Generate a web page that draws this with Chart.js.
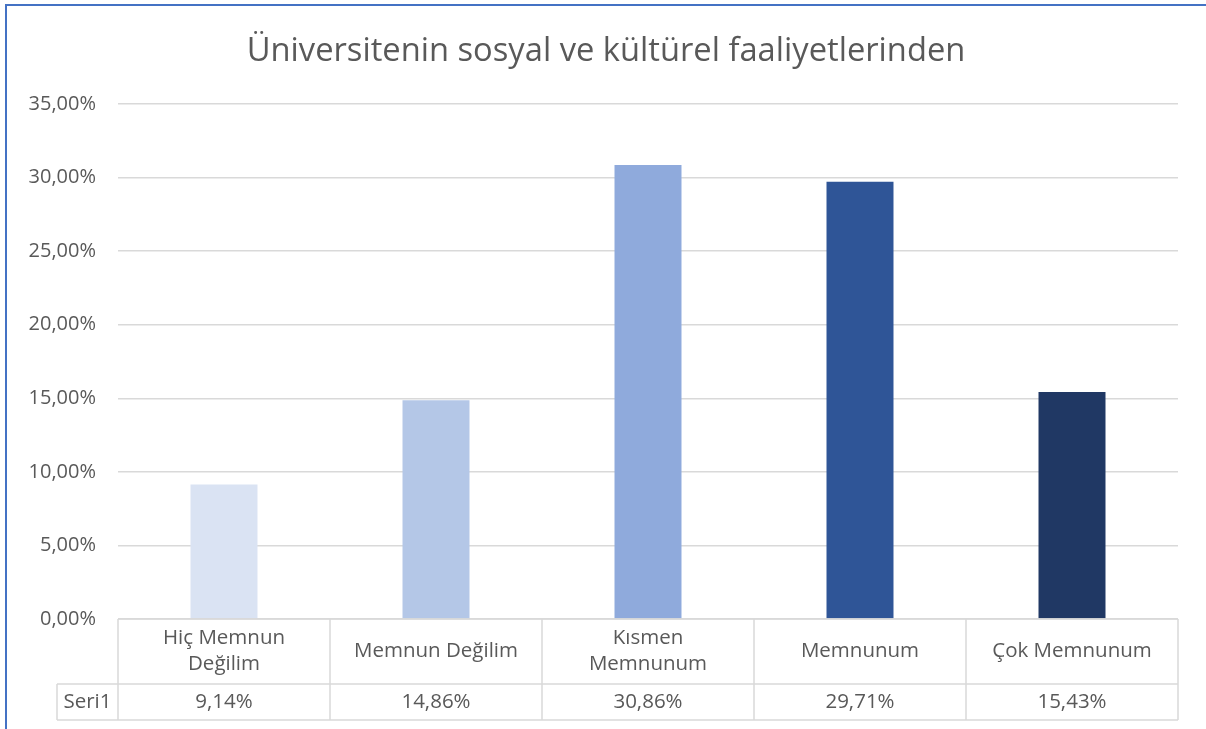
<!DOCTYPE html>
<html><head><meta charset="utf-8">
<script src="https://cdn.jsdelivr.net/npm/chart.js@4/dist/chart.umd.min.js"></script>
<style>
html,body{margin:0;padding:0;background:#fff;}
#wrap{position:relative;width:1206px;height:729px;}
#frame{position:absolute;left:5px;top:4px;right:-10px;bottom:-10px;border-left:2px solid #4472C4;border-top:2px solid #4472C4;pointer-events:none;}
canvas{display:block;}
</style></head>
<body>
<div id="wrap"><canvas id="c" width="1206" height="729"></canvas><div id="frame"></div></div>
<script>
const categories = ["Hiç Memnun Değilim", "Memnun Değilim", "Kısmen Memnunum", "Memnunum", "Çok Memnunum"];
const headerLines = [["Hiç Memnun", "Değilim"], ["Memnun Değilim"], ["Kısmen", "Memnunum"], ["Memnunum"], ["Çok Memnunum"]];
const seriesName = "Seri1";
const values = [9.14, 14.86, 30.86, 29.71, 15.43];
const barColors = ["#DAE3F3", "#B4C7E7", "#8FAADC", "#2F5597", "#203864"];
const titleText = "Üniversitenin sosyal ve kültürel faaliyetlerinden";

const FONT = "'Open Sans', 'DejaVu Sans', sans-serif";
const TEXT = "#595959";
const LINE = "#D9D9D9";
const fmt = v => v.toFixed(2).replace('.', ',') + '%';

const titlePlugin = {
  id: 'centerTitle',
  afterDraw(chart) {
    const ctx = chart.ctx;
    ctx.save();
    ctx.fillStyle = TEXT;
    ctx.font = "32.7px " + FONT;
    ctx.textAlign = 'center';
    ctx.textBaseline = 'middle';
    ctx.fillText(titleText, chart.width / 2 + 3, 52);
    ctx.restore();
  }
};

const tablePlugin = {
  id: 'dataTable',
  afterDraw(chart) {
    const ctx = chart.ctx, x = chart.scales.x, area = chart.chartArea;
    const n = categories.length;
    const step = (area.right - area.left) / n;
    const top = area.bottom;
    const mid = top + 65;
    const bot = top + 101;
    const leftLabel = 57;
    ctx.save();
    ctx.strokeStyle = LINE;
    ctx.lineWidth = 1.5;
    ctx.beginPath();
    ctx.moveTo(area.left, top); ctx.lineTo(area.right, top);
    ctx.moveTo(leftLabel, mid); ctx.lineTo(area.right, mid);
    ctx.moveTo(leftLabel, bot); ctx.lineTo(area.right, bot);
    for (let i = 0; i <= n; i++) {
      const px = area.left + i * step;
      ctx.moveTo(px, top); ctx.lineTo(px, bot);
    }
    ctx.moveTo(leftLabel, mid); ctx.lineTo(leftLabel, bot);
    ctx.stroke();
    ctx.fillStyle = TEXT;
    ctx.font = "20.5px " + FONT;
    ctx.textAlign = 'center';
    ctx.textBaseline = 'middle';
    for (let i = 0; i < n; i++) {
      const cx = x.getPixelForValue(i);
      const lines = headerLines[i];
      const lh = 26;
      const y0 = (top + mid) / 2 - (lines.length - 1) * lh / 2;
      lines.forEach((l, j) => ctx.fillText(l, cx, y0 + j * lh));
      ctx.fillText(fmt(values[i]), cx, (mid + bot) / 2);
    }
    ctx.fillText(seriesName, (leftLabel + area.left) / 2, (mid + bot) / 2);
    ctx.restore();
  }
};

new Chart(document.getElementById('c'), {
  type: 'bar',
  data: {
    labels: categories,
    datasets: [{
      label: seriesName,
      data: values,
      backgroundColor: barColors,
      borderWidth: 0,
      barPercentage: 1,
      categoryPercentage: 0.316
    }]
  },
  options: {
    responsive: false,
    animation: false,
    devicePixelRatio: 1,
    layout: { padding: { left: 0, right: 28, top: 104, bottom: 110 } },
    plugins: {
      legend: { display: false },
      tooltip: { enabled: false },
      title: { display: false }
    },
    scales: {
      x: { display: false },
      y: {
        min: 0, max: 35,
        afterFit(s) { s.width = 118; },
        ticks: {
          stepSize: 5,
          padding: 22,
          color: TEXT,
          font: { family: FONT, size: 20 },
          callback: v => fmt(v)
        },
        grid: { color: LINE, lineWidth: 1.5, drawTicks: false },
        border: { display: false }
      }
    }
  },
  plugins: [tablePlugin, titlePlugin]
});
</script>
</body></html>
